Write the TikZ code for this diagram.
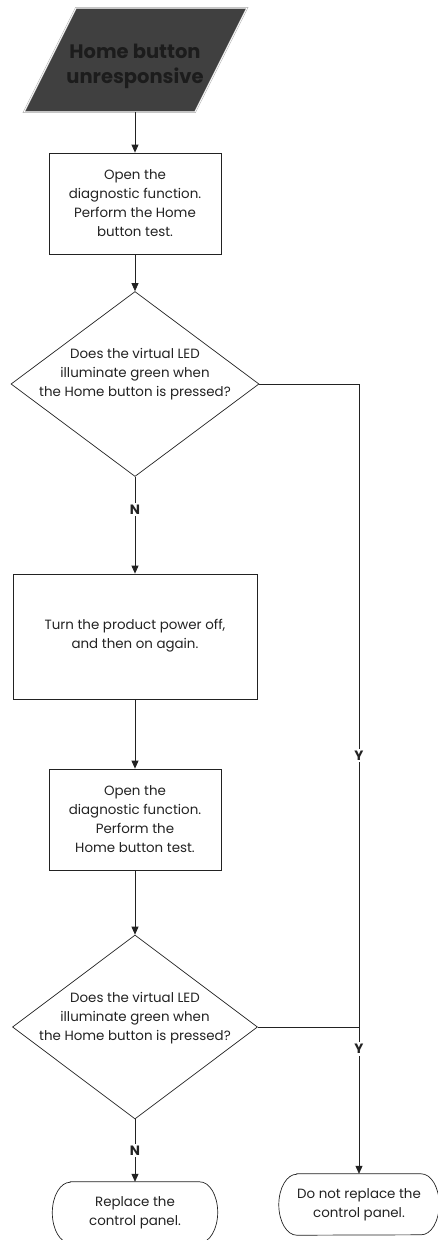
\documentclass[tikz,border=0pt]{standalone}
\usepackage{fontspec}
\setmainfont{Poppins}
\usetikzlibrary{shapes.geometric,arrows.meta}
\definecolor{ink}{HTML}{222222}
\definecolor{dark}{HTML}{404040}
\definecolor{titleink}{HTML}{1C1C1C}
\begin{document}
\begin{tikzpicture}[x=1pt,y=-1pt,
  font=\fontsize{13.4}{19}\selectfont,
  line/.style={draw=ink, line width=0.8pt},
  arr/.style={line, -{Triangle[length=8pt,width=7pt]}},
  procbox/.style={draw=ink, line width=0.8pt, align=center, inner sep=0pt, text=ink},
  dia/.style={diamond, draw=ink, line width=0.7pt, inner sep=0pt},
  txt/.style={align=center, inner sep=0pt, text=ink},
  termbody/.style={inner sep=0pt, align=center, text=ink, minimum height=61pt},
  lbl/.style={fill=white, text=ink, font=\bfseries\fontsize{13.5}{15}\selectfont, inner sep=2pt},
]
\useasboundingbox (0,0) rectangle (438,1240);

% start parallelogram
\fill[dark] (76,8) -- (247,8) -- (195,112) -- (24,112) -- cycle;
\draw[gray!70, line width=0.5pt, double=white, double distance=0.7pt] (76,8) -- (247,8) -- (195,112) -- (24,112) -- cycle;
\node[txt, text=titleink, font=\bfseries\fontsize{19.5}{25}\selectfont] (start) at (135,66) {Home button\\unresponsive};
\coordinate (startb) at (135,112);

% boxes
\node[procbox, minimum width=172pt, minimum height=101pt] (b1) at (135,203.5)
  {Open the\\diagnostic function.\\Perform the Home\\button test.};
\node[dia, minimum width=248pt, minimum height=185pt] (d1) at (135,384) {};
\node[txt] (d1t) at (135,374) {Does the virtual LED\\illuminate green when\\the Home button is pressed?};

\node[procbox, minimum width=244pt, minimum height=125pt] (b2) at (135,636.5) {};
\node[txt] (b2t) at (135,636) {Turn the product power off,\\and then on again.};

\node[procbox, minimum width=172pt, minimum height=101pt] (b3) at (135,819.5)
  {Open the\\diagnostic function.\\Perform the\\Home button test.};
\node[dia, minimum width=245pt, minimum height=184pt] (d2) at (135,1027) {};
\node[txt] (d2t) at (135,1018) {Does the virtual LED\\illuminate green when\\the Home button is pressed?};

% terminals
\node[termbody, minimum width=129pt] (t1) at (135,1212.5) {Replace the\\control panel.};
\draw[line, line width=0.7pt] (t1.north west) -- (t1.north east)
  arc[start angle=90, end angle=-90, x radius=18pt, y radius=30.5pt] -- (t1.south west)
  arc[start angle=270, end angle=90, x radius=18pt, y radius=30.5pt] -- cycle;
\node[termbody, minimum width=124pt] (t2) at (359,1204.5) {Do not replace the\\control panel.};
\draw[line, line width=0.7pt] (t2.north west) -- (t2.north east)
  arc[start angle=90, end angle=-90, x radius=18pt, y radius=30.5pt] -- (t2.south west)
  arc[start angle=270, end angle=90, x radius=18pt, y radius=30.5pt] -- cycle;

% junctions
\coordinate (j1) at (359,384);
\coordinate (j2) at (359,1027);

% connectors
\draw[arr] (startb) -- (b1.north);
\draw[arr] (b1.south) -- (d1.north);
\draw[arr] (d1.south) -- node[lbl, pos=0.34] {N} (b2.north);
\draw[arr] (b2.south) -- (b3.north);
\draw[arr] (b3.south) -- (d2.north);
\draw[arr] (d2.south) -- node[lbl, pos=0.5] {N} (t1.north);
\draw[line] (d1.east) -- (j1) -- node[lbl, pos=0.578] {Y} (j2);
\draw[arr] (d2.east) -- (j2) -- node[lbl, pos=0.15] {Y} (t2.north);
\end{tikzpicture}
\end{document}
